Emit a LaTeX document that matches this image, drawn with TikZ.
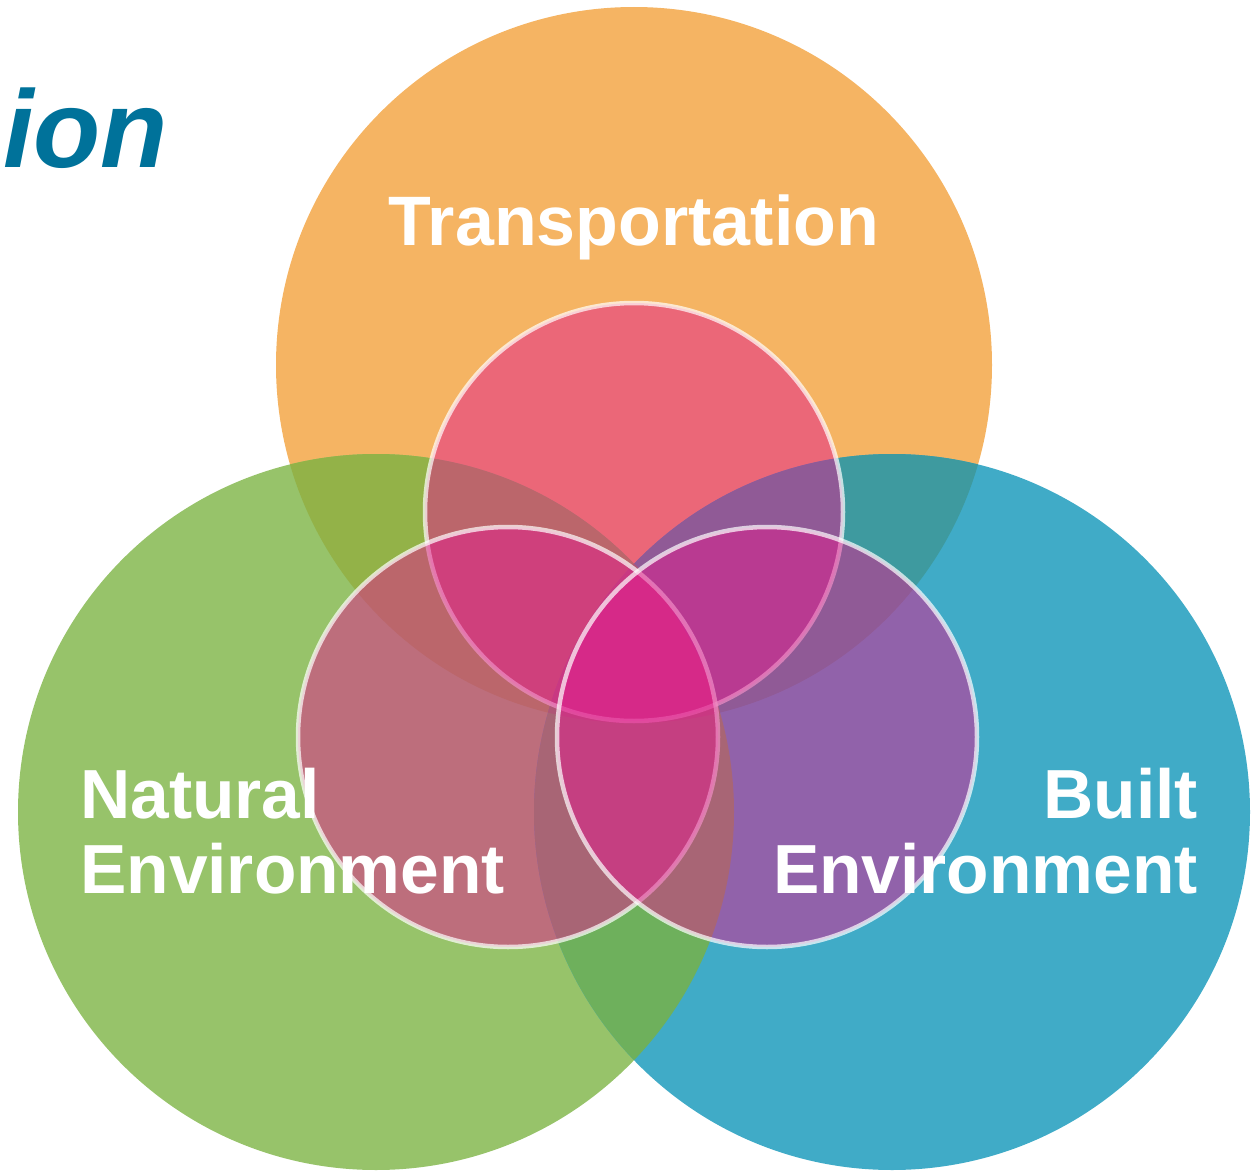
\documentclass[tikz,border=0pt]{standalone}
\usepackage{fontspec}
\setmainfont{Liberation Sans}
\definecolor{cO}{HTML}{F5B463}
\definecolor{cG}{HTML}{97C36A}
\definecolor{cB}{HTML}{40ABC7}
\definecolor{cOG}{HTML}{93B248}
\definecolor{cOB}{HTML}{3E9A9F}
\definecolor{cGB}{HTML}{6EB05C}
\definecolor{cOGB}{HTML}{7B935E}
\definecolor{cMag}{HTML}{E31B8E}
\definecolor{cTitle}{HTML}{00729A}
\tikzset{
  smallc/.style={fill=cMag, fill opacity=0.5, draw=white, draw opacity=0.7, line width=4.5pt},
  lbl/.style={text=white, inner sep=0pt, font=\fontsize{69.5}{80}\selectfont\bfseries},
}
\begin{document}
\begin{tikzpicture}[x=1pt,y=-1pt]
\useasboundingbox (0,0) rectangle (1254,1172);
\def\Oc{(634,365) circle[radius=358pt]}
\def\Gc{(376,812) circle[radius=358pt]}
\def\Bc{(892,812) circle[radius=358pt]}
% big circles
\fill[cO] \Oc;
\fill[cG] \Gc;
\fill[cB] \Bc;
\begin{scope}\clip \Oc; \fill[cOG] \Gc; \end{scope}
\begin{scope}\clip \Oc; \fill[cOB] \Bc; \end{scope}
\begin{scope}\clip \Gc; \fill[cGB] \Bc; \end{scope}
\begin{scope}\clip \Oc; \clip \Gc; \fill[cOGB] \Bc; \end{scope}
% small circles
\path[smallc] (634,512) circle[radius=209pt];
\path[smallc] (508,737) circle[radius=210pt];
\path[smallc] (767,737) circle[radius=210pt];
% texts
\node[anchor=base west, inner sep=0pt, text=cTitle, font=\fontsize{110}{124}\selectfont\bfseries\itshape] (title) at (3,167) {ion};
\node[lbl, anchor=base, font=\fontsize{70}{84}\selectfont\bfseries] (trans) at (634,245) {Transportation};
\node[lbl, anchor=base west] (nat1) at (80,818) {Natural};
\node[lbl, anchor=base west] (nat2) at (80,893) {Environment};
\node[lbl, anchor=base east] (bui1) at (1198,818) {Built};
\node[lbl, anchor=base east] (bui2) at (1198,893) {Environment};
\end{tikzpicture}
\end{document}
